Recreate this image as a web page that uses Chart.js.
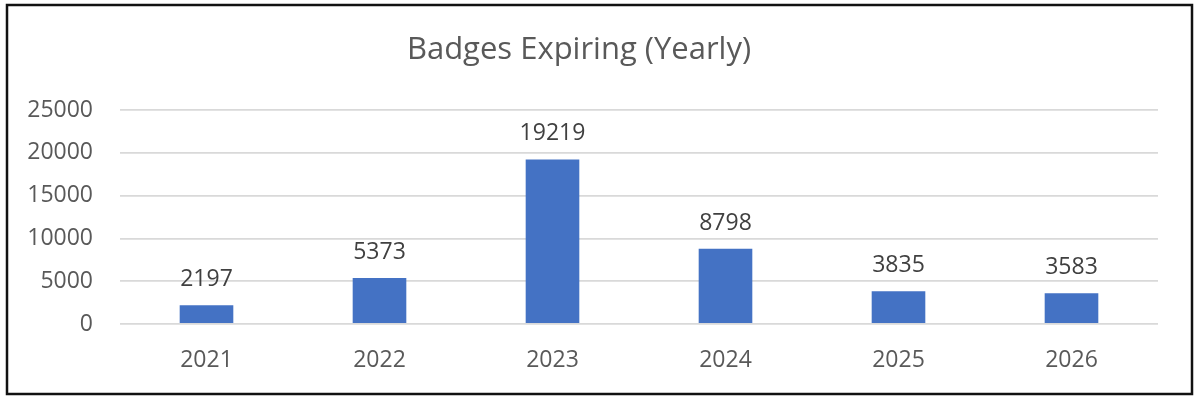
<!DOCTYPE html>
<html>
<head>
<meta charset="utf-8">
<script src="https://cdn.jsdelivr.net/npm/chart.js@4/dist/chart.umd.min.js"></script>
<style>
html,body{margin:0;padding:0;background:#fff;}
#wrap{position:relative;width:1200px;height:403px;}
</style>
</head>
<body>
<div id="wrap"><canvas id="c" width="1200" height="403"></canvas></div>
<script>
const categories = ['2021', '2022', '2023', '2024', '2025', '2026'];
const badgesExpiring = [2197, 5373, 19219, 8798, 3835, 3583];
const yTickValues = [0, 5000, 10000, 15000, 20000, 25000];
const chartTitle = 'Badges Expiring (Yearly)';

const FONT = "'Open Sans', sans-serif";
const TEXT = '#595959';

const valueLabels = {
  id: 'valueLabels',
  afterDatasetsDraw(chart) {
    const ctx = chart.ctx;
    const meta = chart.getDatasetMeta(0);
    ctx.save();
    ctx.font = '23px ' + FONT;
    ctx.fillStyle = '#404040';
    ctx.textAlign = 'center';
    ctx.textBaseline = 'alphabetic';
    meta.data.forEach((bar, i) => {
      ctx.fillText(String(chart.data.datasets[0].data[i]), bar.x, bar.y - 19);
    });
    ctx.restore();
  }
};

const frame = {
  id: 'frame',
  afterDraw(chart) {
    const ctx = chart.ctx;
    ctx.save();
    ctx.strokeStyle = '#111';
    ctx.lineWidth = 2.5;
    ctx.strokeRect(7, 5, 1185, 389);
    ctx.restore();
  }
};

new Chart(document.getElementById('c'), {
  type: 'bar',
  data: {
    labels: categories,
    datasets: [{
      data: badgesExpiring,
      backgroundColor: '#4472C4',
      borderWidth: 0,
      categoryPercentage: 1,
      barPercentage: 0.31
    }]
  },
  options: {
    responsive: false,
    animation: false,
    devicePixelRatio: 1,
    layout: { padding: { left: 0, right: 42, top: 0, bottom: 0 } },
    plugins: {
      legend: { display: false },
      tooltip: { enabled: false },
      title: {
        display: true,
        text: chartTitle,
        color: TEXT,
        font: { family: FONT, size: 31, weight: 'normal', lineHeight: 1.2 },
        padding: { top: 32, bottom: 40.8 }
      }
    },
    scales: {
      x: {
        grid: { display: false, drawTicks: false },
        border: { display: false },
        ticks: { color: TEXT, font: { family: FONT, size: 23 }, padding: 23 },
        afterFit(scale) { scale.height = 79; }
      },
      y: {
        min: 0,
        max: 25000,
        afterBuildTicks(scale) { scale.ticks = yTickValues.map(v => ({ value: v })); },
        grid: { color: '#D9D9D9', lineWidth: 1.8, drawTicks: false },
        border: { display: false },
        ticks: {
          color: TEXT,
          font: { family: FONT, size: 23 },
          padding: 27,
          callback: (v) => String(v)
        },
        afterFit(scale) { scale.width = 120; }
      }
    }
  },
  plugins: [valueLabels, frame]
});
</script>
</body>
</html>
